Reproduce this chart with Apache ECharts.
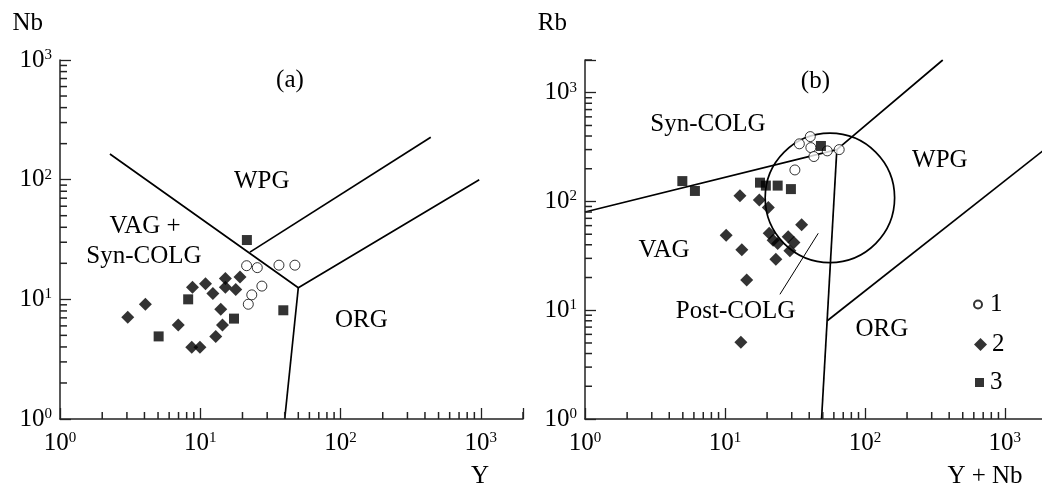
<!DOCTYPE html>
<html>
<head>
<meta charset="utf-8">
<script src="https://cdn.jsdelivr.net/npm/echarts@6/dist/echarts.min.js"></script>
<style>
  html, body { margin: 0; padding: 0; background: #fff; }
  #chart { width: 1042px; height: 485px; }
</style>
</head>
<body>
<div id="chart"></div>
<script>
const FONT = 'Liberation Serif';

// (a) Y vs Nb
const aCircles = [[21.4, 19.1], [25.5, 18.4], [36.4, 19.3], [47.3, 19.3], [27.5, 12.9], [23.3, 10.9], [22.0, 9.1]];
const aDiamonds = [[3.04, 7.07], [4.06, 9.1], [6.97, 6.1], [8.8, 12.6], [8.7, 3.97], [9.95, 3.97], [10.9, 13.5],
  [12.3, 11.2], [14.0, 8.25], [15.1, 14.9], [15.1, 12.6], [14.4, 6.1], [12.9, 4.9], [17.9, 12.1], [19.2, 15.4]];
const aSquares = [[21.5, 31.3], [8.2, 10.0], [5.05, 4.9], [17.4, 6.9], [39.1, 8.1]];
const aFieldLines = [
  [[2.27, 164], [50, 12.5], [975, 100]],
  [[50, 12.5], [40, 1]],
  [[22.6, 24.8], [440, 226]]
];
const aLabels = [[43.6, 680, '(a)'], [27.4, 97.5, 'WPG'], [4.04, 40.4, 'VAG +'], [3.97, 22.7, 'Syn-COLG'], [141, 6.7, 'ORG']];

// (b) Y+Nb vs Rb
const bCircles = [[34, 339], [40.7, 395], [41.1, 313], [43.2, 259], [53.8, 292], [65.5, 300], [31.6, 195]];
const bDiamonds = [[12.8, 113], [17.6, 103], [20.4, 88], [10.2, 49], [13.2, 36], [14.3, 19], [13.0, 5.08],
  [20.7, 51], [22.1, 44], [23.8, 41], [23.1, 29.5], [28.3, 47.5], [31.1, 41.9], [29.1, 35.3], [35.3, 61]];
const bSquares = [[4.96, 154], [6.1, 125], [17.8, 149], [19.6, 140], [23.8, 140], [29.6, 130], [48.5, 324]];
const bFieldLines = [
  [[1, 80], [63, 300], [360, 2000]],
  [[63, 300], [49, 1]],
  [[53.8, 8], [2000, 313]]
];
const bPostColgLeader = [[46.4, 51], [24.7, 14.0]];
const bPostColgCircle = [[56.2, 108, 163]]; // centre x, centre y, x of right edge
const bLabels = [[44.3, 1282, '(b)'], [7.56, 515, 'Syn-COLG'], [343, 241, 'WPG'], [3.67, 35.4, 'VAG'],
  [11.9, 9.84, 'Post-COLG'], [132, 6.72, 'ORG']];

const majorTicks = [1, 10, 100, 1000];
const minorTicks = [2, 3, 4, 5, 6, 7, 8, 9, 20, 30, 40, 50, 60, 70, 80, 90,
  200, 300, 400, 500, 600, 700, 800, 900, 2000];

const chart = echarts.init(document.getElementById('chart'));

function powLabel(v) {
  const e = Math.log10(v);
  if (Math.abs(e - Math.round(e)) > 1e-6) return '';
  return '{b|10}{s|' + Math.round(e) + '}';
}

const labelRich = {
  b: { fontFamily: FONT, fontSize: 25, color: '#000', lineHeight: 25 },
  s: { fontFamily: FONT, fontSize: 15, color: '#000', lineHeight: 15, verticalAlign: 'top' }
};

function logAxis(grid, max, name, extra) {
  return Object.assign({
    type: 'log', gridIndex: grid, min: 1, max: max,
    axisLine: { lineStyle: { color: '#222', width: 1.5 } },
    axisTick: { show: true, inside: true, length: 11, lineStyle: { color: '#222', width: 1.3 } },
    splitLine: { show: false },
    axisLabel: { formatter: powLabel, rich: labelRich, color: '#000' },
    name: name,
    nameTextStyle: { fontFamily: FONT, fontSize: 25, color: '#000' }
  }, extra);
}

// minor ticks of one axis, placed through the axis scale
function ticks(kind, grid, max) {
  const list = minorTicks.filter(v => v <= max);
  return {
    type: 'custom', xAxisIndex: grid, yAxisIndex: grid, clip: false, z: 10,
    data: list.map(v => kind === 'x' ? [v, 1.5, 7] : [1.5, v, 7]),
    renderItem: function (params, api) {
      const v = kind === 'x' ? api.value(0) : api.value(1);
      const p = kind === 'x' ? api.coord([v, 1]) : api.coord([1, v]);
      const len = api.value(2);
      return {
        type: 'line',
        shape: kind === 'x' ? { x1: p[0], y1: p[1], x2: p[0], y2: p[1] - len } : { x1: p[0], y1: p[1], x2: p[0] + len, y2: p[1] },
        style: { stroke: '#222', lineWidth: 1.5 }
      };
    }
  };
}

function fieldLines(lines, grid, width) {
  return lines.map(pts => ({
    type: 'line', xAxisIndex: grid, yAxisIndex: grid, data: pts, showSymbol: false, symbol: 'none',
    silent: true, lineStyle: { color: '#000', width: width || 1.7 }
  }));
}

function texts(labels, grid) {
  return {
    type: 'custom', xAxisIndex: grid, yAxisIndex: grid, silent: true,
    data: labels.map(l => [l[0], l[1]]),
    renderItem: function (params, api) {
      const p = api.coord([api.value(0), api.value(1)]);
      return {
        type: 'text', x: p[0], y: p[1],
        style: { text: labels[params.dataIndex][2], fontFamily: FONT, fontSize: 25, fill: '#000',
          align: 'center', verticalAlign: 'middle' }
      };
    }
  };
}

function points(grid) {
  const sets = grid === 0 ? [aCircles, aDiamonds, aSquares] : [bCircles, bDiamonds, bSquares];
  return [
    { name: '1', type: 'scatter', xAxisIndex: grid, yAxisIndex: grid, data: sets[0], symbol: 'circle', symbolSize: 10,
      itemStyle: { color: '#fff', borderColor: '#000', borderWidth: 1 }, z: 4 },
    { name: '2', type: 'scatter', xAxisIndex: grid, yAxisIndex: grid, data: sets[1], symbol: 'diamond', symbolSize: 13,
      itemStyle: { color: '#000' }, z: 4 },
    { name: '3', type: 'scatter', xAxisIndex: grid, yAxisIndex: grid, data: sets[2], symbol: 'rect', symbolSize: 10,
      itemStyle: { color: '#000' }, z: 4 }
  ];
}

const legendText = { fontFamily: FONT, fontSize: 25, color: '#000' };

chart.setOption({
  animation: false,
  grid: [
    { left: 60, top: 60, width: 463, height: 359, containLabel: false, outerBoundsMode: 'none' },
    { left: 585, top: 60, width: 462, height: 359, containLabel: false, outerBoundsMode: 'none' }
  ],
  xAxis: [
    logAxis(0, 2000, 'Y', { nameLocation: 'end', nameGap: -43,
      axisLabel: { formatter: powLabel, rich: labelRich, margin: 12 },
      nameTextStyle: { fontFamily: FONT, fontSize: 25, color: '#000', align: 'center', verticalAlign: 'top', padding: [45, 0, 0, 0] } }),
    logAxis(1, 2000, 'Y + Nb', { nameLocation: 'end', nameGap: -62,
      axisLabel: { formatter: powLabel, rich: labelRich, margin: 12 },
      nameTextStyle: { fontFamily: FONT, fontSize: 25, color: '#000', align: 'center', verticalAlign: 'top', padding: [45, 0, 0, 0] } })
  ],
  yAxis: [
    logAxis(0, 1000, 'Nb', { nameLocation: 'end', nameGap: 37,
      axisLabel: { formatter: powLabel, rich: labelRich, margin: 8 },
      nameTextStyle: { fontFamily: FONT, fontSize: 25, color: '#000', align: 'right', verticalAlign: 'middle', padding: [0, 17, 0, 0] } }),
    logAxis(1, 2000, 'Rb', { nameLocation: 'end', nameGap: 37,
      axisLabel: { formatter: powLabel, rich: labelRich, margin: 8 },
      nameTextStyle: { fontFamily: FONT, fontSize: 25, color: '#000', align: 'right', verticalAlign: 'middle', padding: [0, 18, 0, 0] } })
  ],
  legend: [
    { data: ['1'], left: 968, top: 287, itemWidth: 8, itemHeight: 8, selectedMode: false, textStyle: Object.assign({ padding: [0, 0, 0, 3] }, legendText) },
    { data: ['2'], left: 969, top: 327, itemWidth: 13, itemHeight: 13, selectedMode: false, textStyle: Object.assign({ padding: [0, 0, 0, 0] }, legendText) },
    { data: ['3'], left: 970, top: 365, itemWidth: 9, itemHeight: 9, selectedMode: false, textStyle: Object.assign({ padding: [0, 0, 0, 1] }, legendText) }
  ],
  series: [].concat(
    ticks('x', 0, 2000), ticks('y', 0, 1000), ticks('x', 1, 2000), ticks('y', 1, 2000),
    fieldLines(aFieldLines, 0),
    fieldLines(bFieldLines, 1),
    fieldLines([bPostColgLeader], 1, 1),
    [{
      type: 'custom', xAxisIndex: 1, yAxisIndex: 1, silent: true, data: bPostColgCircle,
      renderItem: function (params, api) {
        const c = api.coord([api.value(0), api.value(1)]);
        const e = api.coord([api.value(2), api.value(1)]);
        return { type: 'circle', shape: { cx: c[0], cy: c[1], r: e[0] - c[0] },
          style: { fill: 'none', stroke: '#000', lineWidth: 1.7 } };
      }
    }],
    texts(aLabels, 0), texts(bLabels, 1),
    points(0), points(1)
  )
});
</script>
</body>
</html>
